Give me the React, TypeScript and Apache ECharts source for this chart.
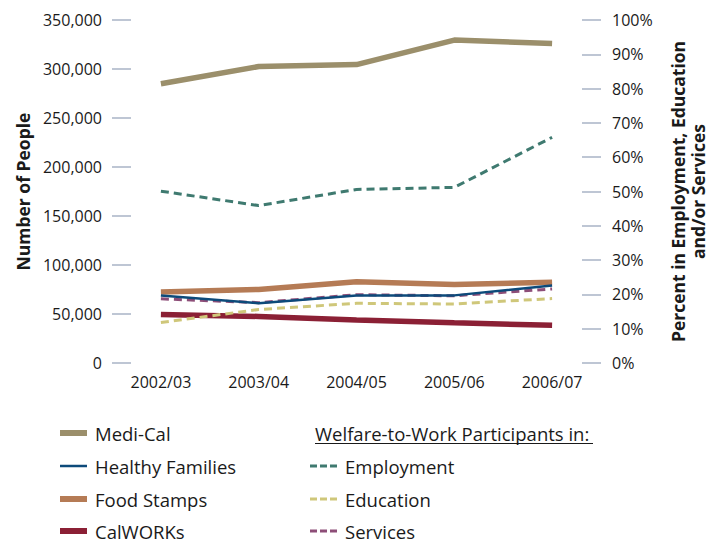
import React, { useEffect, useRef } from "react";
import * as echarts from "echarts";

const categories = ["2002/03", "2003/04", "2004/05", "2005/06", "2006/07"];
const mediCal = [285000, 302500, 304500, 329500, 326000];
const healthyFamilies = [69000, 61000, 69000, 69000, 79000];
const foodStamps = [72500, 75000, 83000, 80000, 82500];
const calWORKs = [49500, 47500, 44000, 41000, 38500];
const employment = [50.1, 45.9, 50.6, 51.2, 65.8];
const education = [11.8, 15.6, 17.4, 17.2, 18.8];
const services = [18.7, 17.6, 19.9, 19.6, 21.6];
const leftTicks = { min: 0, max: 350000, interval: 50000 };
const rightTicks = { min: 0, max: 100, interval: 10 };
const legendHeader = "Welfare-to-Work Participants in:";

const FONT = "'Open Sans', 'Noto Sans', sans-serif";
const TEXT = "#1a1a1a";
const TICK = "#a9b3c6";
const DASH_ICON = "path://M0,0h7v3h-7zM10,0h7v3h-7zM20,0h7v3h-7z";
const LEG_FS = 18.5;

const COLORS: Record<string, string> = {
  "Medi-Cal": "#9b8f6b",
  "Healthy Families": "#0d4a7a",
  "Food Stamps": "#b57b55",
  CalWORKs: "#8b2035",
  Employment: "#3f7a70",
  Education: "#cfc77a",
  Services: "#8d4e78",
};

export default function App() {
  const ref = useRef<HTMLDivElement>(null);
  useEffect(() => {
    if (!ref.current) return;
    const chart = echarts.init(ref.current, undefined, { renderer: "svg" });
    const dash = [8, 5];
    const line = (name: string, data: number[], width: number, yIndex: number, dashed = false, z = 2) => ({
      name,
      type: "line",
      data,
      yAxisIndex: yIndex,
      symbol: "none",
      z,
      lineStyle: { color: COLORS[name], width, type: dashed ? dash : "solid", cap: "butt" },
      itemStyle: { color: COLORS[name] },
    });
    const leg = (name: string, left: number, cy: number, icon: string, h: number) => ({
      orient: "vertical",
      left,
      top: cy - 10,
      padding: 0,
      itemWidth: 27,
      itemHeight: h,
      symbolKeepAspect: false,
      data: [
        {
          name,
          icon,
          itemStyle: { color: COLORS[name], borderWidth: 0, opacity: 1 },
        },
      ],
      textStyle: { fontSize: LEG_FS, color: TEXT, fontFamily: FONT, lineHeight: 20, padding: [0, 0, 0, 3] },
    });
    chart.setOption({
      animation: false,
      textStyle: { fontFamily: FONT, color: TEXT },
      grid: { left: 112, right: 119, top: 20, bottom: 180, containLabel: false },
      xAxis: {
        type: "category",
        data: categories,
        boundaryGap: true,
        axisLine: { show: false },
        axisTick: { show: false },
        axisLabel: { fontSize: 16, color: TEXT, margin: 11, fontFamily: FONT },
      },
      yAxis: [
        {
          type: "value",
          position: "left",
          min: leftTicks.min,
          max: leftTicks.max,
          interval: leftTicks.interval,
          name: "Number of People",
          nameLocation: "middle",
          nameRotate: 90,
          nameGap: 80,
          nameTextStyle: { fontSize: 17.5, fontWeight: "bold", color: TEXT, fontFamily: FONT },
          axisLine: { show: false },
          axisTick: { show: true, inside: true, length: 19, lineStyle: { color: TICK, width: 1.5 } },
          splitLine: { show: false },
          axisLabel: {
            fontSize: 16,
            color: TEXT,
            margin: 10,
            fontFamily: FONT,
            formatter: (v: number) => v.toLocaleString("en-US"),
          },
        },
        {
          type: "value",
          position: "right",
          min: rightTicks.min,
          max: rightTicks.max,
          interval: rightTicks.interval,
          name: "Percent in Employment, Education\nand/or Services",
          nameLocation: "middle",
          nameRotate: 90,
          nameGap: 67,
          nameTextStyle: { fontSize: 17.5, fontWeight: "bold", color: TEXT, fontFamily: FONT, lineHeight: 20 },
          axisLine: { show: false },
          axisTick: { show: true, inside: true, length: 19, lineStyle: { color: TICK, width: 1.5 } },
          splitLine: { show: false },
          axisLabel: {
            fontSize: 16,
            color: TEXT,
            margin: 11,
            fontFamily: FONT,
            formatter: (v: number) => v + "%",
          },
        },
      ],
      legend: [
        leg("Medi-Cal", 60, 433, "rect", 6),
        leg("Healthy Families", 60, 466, "rect", 2.5),
        leg("Food Stamps", 60, 499, "rect", 6),
        leg("CalWORKs", 60, 531, "rect", 6),
        leg("Employment", 310, 466, DASH_ICON, 3),
        leg("Education", 310, 499, DASH_ICON, 3),
        leg("Services", 310, 531, DASH_ICON, 3),
      ],
      graphic: [
        {
          type: "text",
          left: 315,
          top: 423,
          style: { text: legendHeader, fontSize: LEG_FS, fill: TEXT, fontFamily: FONT, lineHeight: 20 },
        },
        {
          type: "line",
          shape: { x1: 315, y1: 443.5, x2: 593, y2: 443.5 },
          style: { stroke: TEXT, lineWidth: 1 },
        },
      ],
      series: [
        line("Medi-Cal", mediCal, 5.5, 0, false, 2),
        line("Employment", employment, 3, 1, true, 3),
        line("Food Stamps", foodStamps, 5.5, 0, false, 2),
        line("Services", services, 3, 1, true, 3),
        line("Healthy Families", healthyFamilies, 2.5, 0, false, 4),
        line("CalWORKs", calWORKs, 5.5, 0, false, 2),
        line("Education", education, 3, 1, true, 3),
      ],
    });
    return () => chart.dispose();
  }, []);
  return <div ref={ref} style={{ width: 720, height: 543, position: "absolute", left: 0, top: 0 }} />;
}
